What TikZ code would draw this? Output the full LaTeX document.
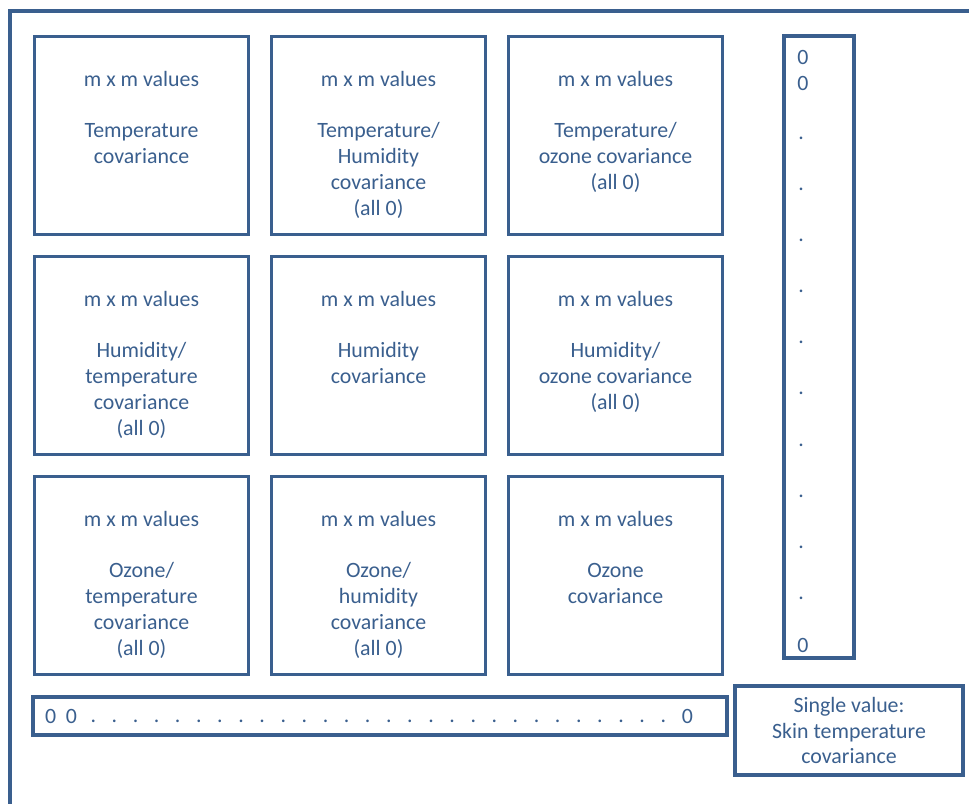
\documentclass[tikz,border=0pt]{standalone}
\usepackage{fontspec}
\setmainfont{Carlito}
\usetikzlibrary{positioning}
\definecolor{boxblue}{RGB}{58,95,142}
\begin{document}
\begin{tikzpicture}[x=0.75pt, y=-0.75pt,
  box/.style={draw=boxblue, line width=2.3pt, rectangle, inner sep=0pt},
  cell/.style={box, minimum width=160.5pt, minimum height=148.5pt, anchor=north},
  celltext/.style={text=boxblue, font=\fontsize{16.4}{19.3}\selectfont, align=center, inner sep=0pt},
  entry/.style={celltext, anchor=center}]
  \clip (0,0) rectangle (969,803);
  \draw[boxblue, line width=2.6pt] (10,830) |- (990,11);

  \foreach \c/\r/\txt in {0/0/{Temperature\\covariance},
                          1/0/{Temperature/\\Humidity\\covariance\\(all 0)},
                          2/0/{Temperature/\\ozone covariance\\(all 0)},
                          0/1/{Humidity/\\temperature\\covariance\\(all 0)},
                          1/1/{Humidity\\covariance},
                          2/1/{Humidity/\\ozone covariance\\(all 0)},
                          0/2/{Ozone/\\temperature\\covariance\\(all 0)},
                          1/2/{Ozone/\\humidity\\covariance\\(all 0)},
                          2/2/{Ozone\\covariance}}
  {
    \node[cell] (cell-\r-\c) at (141.5+237*\c, 35+220*\r) {};
    \node[celltext, anchor=north] (txt-\r-\c) at ([yshift=-27pt]cell-\r-\c.north)
      {m x m values\\[19.3pt]\txt};
  }

  \node[box, minimum width=52.5pt, minimum height=466.5pt] (column) at (819,347) {};
  \node[entry] (col-a) at (803,57) {0};
  \node[entry] (col-b) at (803,83) {0};
  \foreach \i in {0, 1, ..., 9}
    \node[entry] (col-dot-\i) at (801, 138.3+51.1*\i) {.};
  \node[entry] (col-z) at (803,645) {0};

  \node[box, minimum width=520.5pt, minimum height=28.5pt] (row) at (380,716) {};
  \node[entry] (row-a) at (50.7,716.7) {0};
  \node[entry] (row-b) at (71.3,716.7) {0};
  \foreach \i in {0, 1, ..., 27}
    \node[entry] (row-dot-\i) at (93.3+21.11*\i, 721.7) {.};
  \node[entry] (row-z) at (687.3,716.7) {0};

  \node[box, celltext, draw=boxblue, minimum width=171pt, minimum height=66.75pt] (skin) at (849,730.5)
    {Single value:\\Skin temperature\\covariance};
\end{tikzpicture}
\end{document}
